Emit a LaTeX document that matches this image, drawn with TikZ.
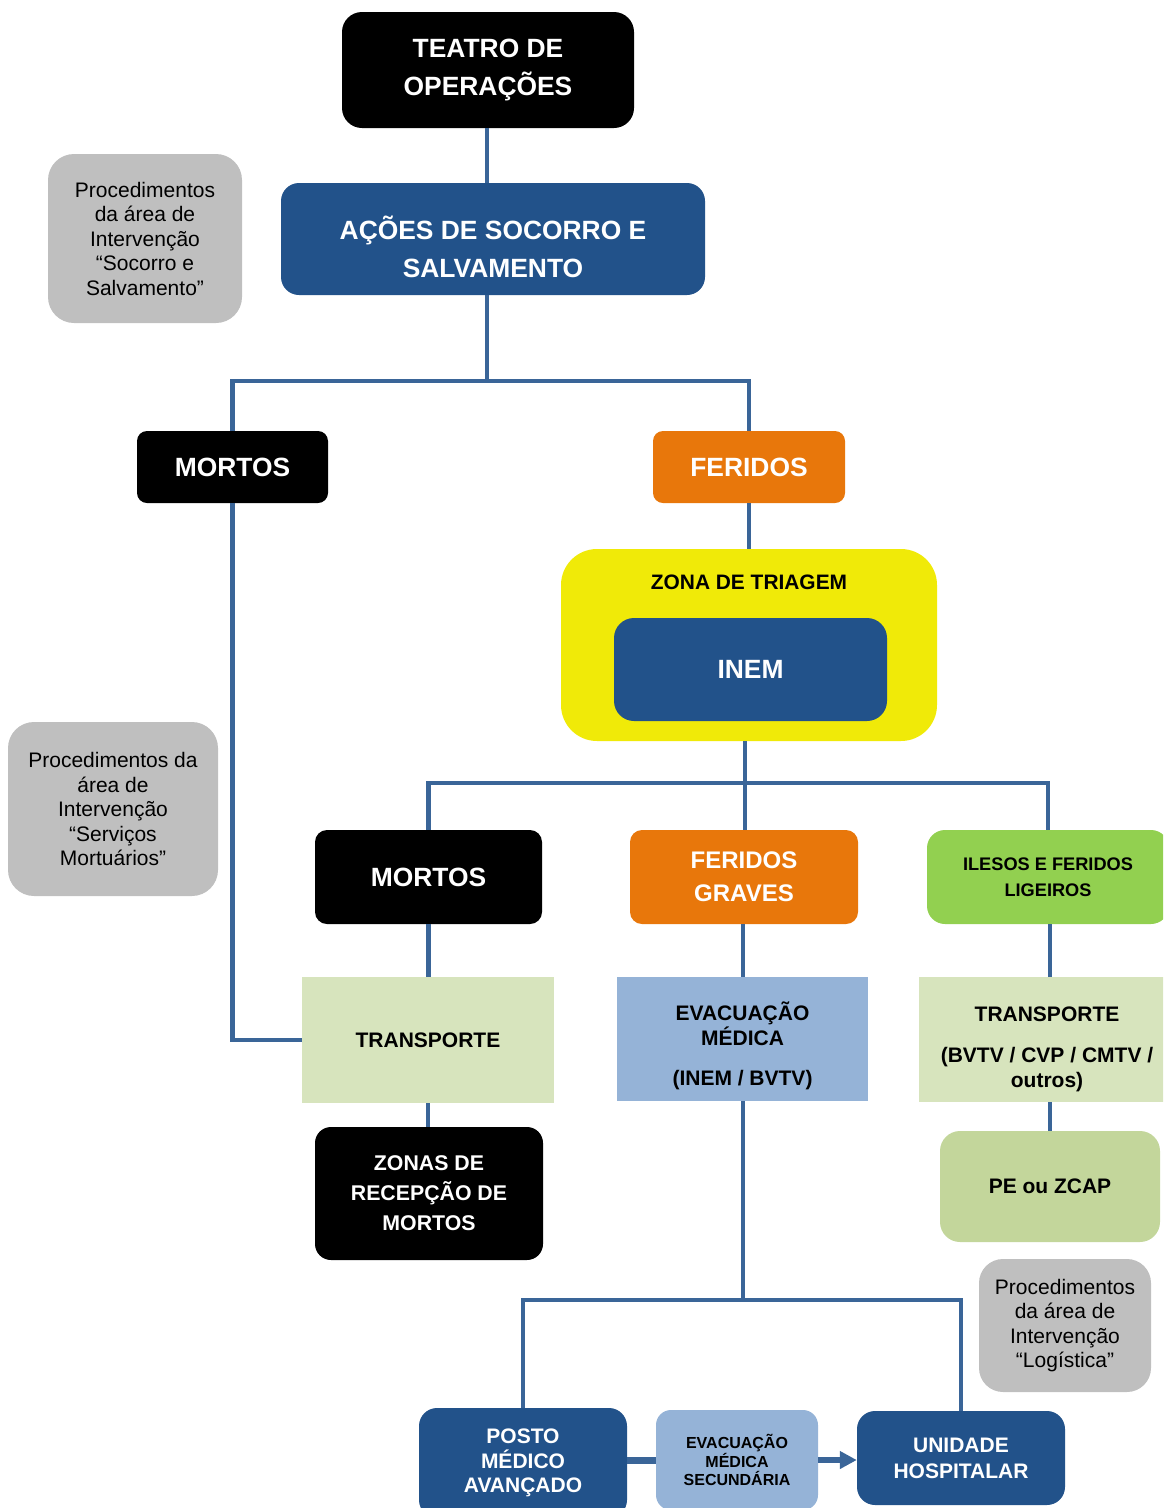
\documentclass[tikz,border=0pt]{standalone}
\usepackage{fontspec}
\setmainfont{Liberation Sans}
\usetikzlibrary{arrows.meta}

\definecolor{navy}{HTML}{22528A}
\definecolor{wire}{HTML}{3A6598}
\definecolor{amber}{HTML}{E8770B}
\definecolor{lemon}{HTML}{F0EA08}
\definecolor{lime}{HTML}{92D050}
\definecolor{sage}{HTML}{D7E4BD}
\definecolor{moss}{HTML}{C3D69B}
\definecolor{sky}{HTML}{95B3D7}
\definecolor{ash}{HTML}{BFBFBF}

\newcommand\fntHead{\bfseries\fontsize{26.4}{38}\selectfont}
\newcommand\fntMid{\bfseries\fontsize{21}{25}\selectfont}
\newcommand\fntNote{\fontsize{21}{24.5}\selectfont}

\begin{document}
\begin{tikzpicture}[x=1pt,y=-1pt,
  every node/.style={inner sep=0pt, align=center},
  blk/.style={fill=black, text=white},
  nav/.style={fill=navy, text=white},
  org/.style={fill=amber, text=white},
  note/.style={fill=ash, text=black, font=\fntNote},
  plain/.style={text=black},
  link/.style={draw=wire, line width=4.5pt},
  thick link/.style={draw=wire, line width=7pt},
  arrow link/.style={draw=wire, line width=6pt, -{Triangle[length=17pt,width=17pt]}}
]
\useasboundingbox (0,0) rectangle (1163,1508);
\clip (0,0) rectangle (1163,1508);

% top of the chain
\node[blk, rounded corners=20pt, minimum width=292pt, minimum height=116pt, font=\fntHead]
  (teatro) at (488,70) {TEATRO DE\\OPERAÇÕES};
\node[nav, rounded corners=18pt, minimum width=424pt, minimum height=112pt]
  (acoes) at (493,239) {};
\node[text=white, font=\fntHead, fill=none] (acoes-t) at (493,247) {AÇÕES DE SOCORRO E\\SALVAMENTO};

% side notes
\node[note, rounded corners=26pt, minimum width=194pt, minimum height=169pt]
  (nota1) at (145,238.5) {Procedimentos\\da área de\\Intervenção\\“Socorro e\\Salvamento”};
\node[note, rounded corners=26pt, minimum width=210pt, minimum height=174pt]
  (nota2) at (113,809) {Procedimentos da\\área de\\Intervenção\\“Serviços\\Mortuários”};
\node[note, rounded corners=24pt, minimum width=172pt, minimum height=133pt]
  (nota3) at (1065,1325.5) {Procedimentos\\da área de\\Intervenção\\“Logística”};

% first split
\node[blk, rounded corners=10pt, minimum width=191pt, minimum height=72pt, font=\fntHead]
  (mortos1) at (232.5,467) {MORTOS};
\node[org, rounded corners=10pt, minimum width=192pt, minimum height=72pt, font=\fntHead]
  (feridos) at (749,467) {FERIDOS};

% triage zone
\node[fill=lemon, rounded corners=36pt, minimum width=376pt, minimum height=192pt]
  (zona) at (749,645) {};
\node[plain, font=\bfseries\fontsize{20.9}{25}\selectfont] (zona-t) at (749,582) {ZONA DE TRIAGEM};
\node[nav, rounded corners=20pt, minimum width=273pt, minimum height=103pt, font=\fntHead]
  (inem) at (750.5,669.5) {INEM};

% second split
\node[blk, rounded corners=12pt, minimum width=227pt, minimum height=94pt, font=\fntHead]
  (mortos2) at (428.5,877) {MORTOS};
\node[org, rounded corners=12pt, minimum width=228pt, minimum height=94pt,
  font=\bfseries\fontsize{24}{33}\selectfont]
  (graves) at (744,877) {FERIDOS\\GRAVES};
\node[fill=lime, plain, rounded corners=18pt, minimum width=242pt, minimum height=94pt,
  font=\bfseries\fontsize{18.2}{26}\selectfont]
  (ilesos) at (1048,877) {ILESOS E FERIDOS\\LIGEIROS};

% transport row
\node[fill=sage, plain, minimum width=252pt, minimum height=126pt, font=\fntMid]
  (transp1) at (428,1040) {TRANSPORTE};
\node[fill=sky, minimum width=251pt, minimum height=124pt] (evac) at (742.5,1039) {};
\node[plain, font=\fntMid] (evac-t) at (742.5,1046) {EVACUAÇÃO\\MÉDICA\\[15pt](INEM / BVTV)};
\node[fill=sage, minimum width=254pt, minimum height=125pt] (transp2) at (1046,1039.5) {};
\node[plain, font=\fntMid] (transp2-t) at (1047,1049) {TRANSPORTE\\[16pt](BVTV / CVP / CMTV /\\outros)};

% destinations
\node[blk, rounded corners=16pt, minimum width=228pt, minimum height=133pt,
  font=\bfseries\fontsize{21.3}{30}\selectfont]
  (zonas) at (429,1193.5) {ZONAS DE\\RECEPÇÃO DE\\MORTOS};
\node[fill=moss, plain, rounded corners=20pt, minimum width=220pt, minimum height=111pt, font=\fntMid]
  (pe) at (1050,1186.5) {PE ou ZCAP};

% hospital chain
\node[nav, rounded corners=18pt, minimum width=208pt, minimum height=110pt,
  font=\bfseries\fontsize{21}{24.5}\selectfont]
  (pma) at (523,1463) {POSTO\\MÉDICO\\AVANÇADO};
\node[fill=sky, plain, rounded corners=15pt, minimum width=162pt, minimum height=100pt,
  font=\bfseries\fontsize{16}{18.5}\selectfont]
  (evms) at (737,1460) {EVACUAÇÃO\\MÉDICA\\SECUNDÁRIA};
\node[nav, rounded corners=18pt, minimum width=208pt, minimum height=94pt,
  font=\bfseries\fontsize{21}{26}\selectfont]
  (uh) at (961,1458) {UNIDADE\\HOSPITALAR};

% junction points of the trees
\coordinate (j1) at (487,381);
\coordinate (j2) at (745,783);
\coordinate (j3) at (743,1300);

% connectors
\draw[link] (teatro.south -| j1) -- (acoes.north -| j1);
\draw[link] (acoes.south -| j1) -- (j1);
\draw[link] (mortos1.north) |- (j1) -| (feridos.north);
\draw[link] (feridos.south) -- (feridos.south |- zona.north);
\draw[link] (zona.south -| j2) -- (j2);
\draw[link] (mortos2.north) |- (j2) -| (ilesos.north);
\draw[link] (j2) -- (graves.north -| j2);
\draw[link] (mortos1.south) |- (transp1.west);
\draw[link] (mortos2.south) -- (mortos2.south |- transp1.north);
\draw[link] (transp1.south) -- (transp1.south |- zonas.north);
\draw[link] (graves.south -| j3) -- (evac.north -| j3);
\draw[link] (evac.south -| j3) -- (j3);
\draw[link] (pma.north) |- (j3) -| (uh.north);
\draw[link] (ilesos.south -| pe.north) -- (transp2.north -| pe.north);
\draw[link] (transp2.south -| pe.north) -- (pe.north);
\draw[thick link] (evms.west -| pma.east) -- (evms.west);
\draw[arrow link] (evms.east) -- (evms.east -| uh.west);
\end{tikzpicture}
\end{document}
